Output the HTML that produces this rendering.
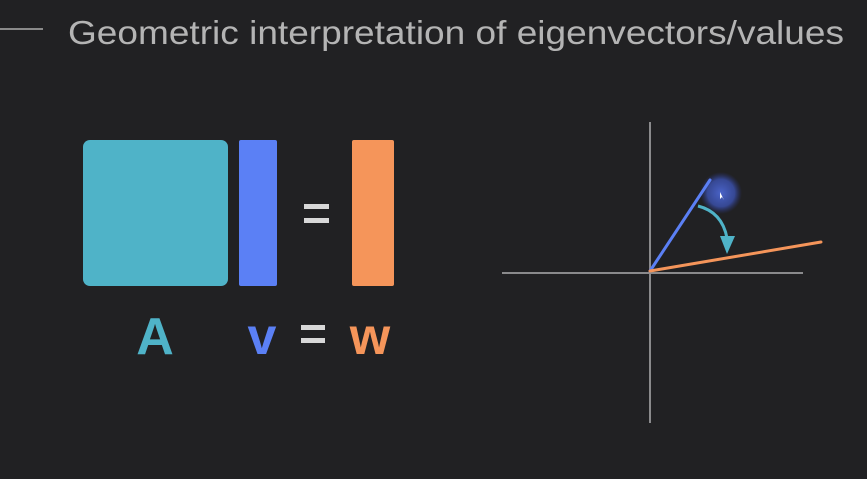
<!DOCTYPE html>
<html><head><meta charset="utf-8"><style>
html,body{margin:0;padding:0;background:#212123;}
svg{display:block}
</style></head><body>
<svg width="867" height="479" viewBox="0 0 867 479">
<rect width="867" height="479" fill="#212123"/>
<line x1="0" y1="29" x2="43" y2="29" stroke="#8a8a8a" stroke-width="2"/>
<text x="68" y="44" font-family="Liberation Sans, sans-serif" font-size="33" fill="#b4b4b4" textLength="776" lengthAdjust="spacingAndGlyphs">Geometric interpretation of eigenvectors/values</text>
<rect x="83" y="140" width="145" height="146" rx="7" fill="#4fb3c8"/>
<rect x="239" y="140" width="38" height="146" rx="2" fill="#5b80f5"/>
<rect x="304" y="204" width="25" height="5" fill="#d8d8d8"/>
<rect x="304" y="218" width="25" height="5" fill="#d8d8d8"/>
<rect x="352" y="140" width="42" height="146" rx="2" fill="#f5955a"/>
<text x="155" y="354" text-anchor="middle" font-family="Liberation Sans, sans-serif" font-weight="bold" font-size="52" fill="#4fb3c8">A</text>
<text x="262" y="354" text-anchor="middle" font-family="Liberation Sans, sans-serif" font-weight="bold" font-size="52" fill="#5b80f5">v</text>
<rect x="301" y="325" width="24" height="5" fill="#d8d8d8"/>
<rect x="301" y="338" width="24" height="5" fill="#d8d8d8"/>
<text x="370" y="354" text-anchor="middle" font-family="Liberation Sans, sans-serif" font-weight="bold" font-size="52" fill="#f5955a">w</text>
<line x1="650" y1="122" x2="650" y2="423" stroke="#8a8a8c" stroke-width="2"/>
<line x1="502" y1="273" x2="803" y2="273" stroke="#8a8a8c" stroke-width="2"/>
<defs><radialGradient id="g"><stop offset="0" stop-color="#4a63c8"/><stop offset="0.65" stop-color="#3a4fa8" stop-opacity="0.85"/><stop offset="1" stop-color="#2a3580" stop-opacity="0"/></radialGradient></defs>
<circle cx="721" cy="193" r="21" fill="url(#g)"/>
<path d="M720 192 L720 199 L722 197 L724 200 Z" fill="#fff"/>
<line x1="650" y1="271" x2="710" y2="180" stroke="#5b80f5" stroke-width="3" stroke-linecap="round"/>
<line x1="650" y1="271" x2="821" y2="242" stroke="#f5955a" stroke-width="3" stroke-linecap="round"/>
<path d="M698 206 Q722 212 727 238" fill="none" stroke="#4fb3c8" stroke-width="3"/>
<polygon points="720,236 735,236 727,254" fill="#4fb3c8"/>
</svg>
</body></html>
